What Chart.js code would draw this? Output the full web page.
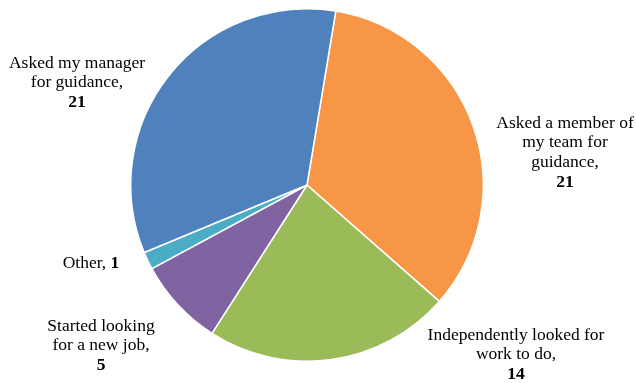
<!DOCTYPE html>
<html>
<head>
<meta charset="utf-8">
<script src="https://cdn.jsdelivr.net/npm/chart.js@4/dist/chart.umd.min.js"></script>
<style>
  html, body { margin: 0; padding: 0; background: #fff; }
  #wrap { width: 636px; height: 383px; }
  .warm { font-family: "Liberation Serif"; position: absolute; left: -999px; top: -999px; }
</style>
</head>
<body>
<span class="warm">Asked <b>21</b></span>
<div id="wrap"><canvas id="pie" width="636" height="383"></canvas></div>
<script>
// Responses, in clockwise order starting just right of twelve o'clock
const categories = [
  ['Asked a member of', 'my team for', 'guidance,'],
  ['Independently looked for', 'work to do,'],
  ['Started looking', 'for a new job,'],
  ['Other,'],
  ['Asked my manager', 'for guidance,']
];
const responses = [21, 14, 5, 1, 21];
const sliceColors = ['#F79646', '#9BBB59', '#8064A2', '#4BACC6', '#4F81BD'];

// Label placement, relative to the pie centre (px): x of text centre, y of first line
const labelOffsets = [
  { dx: 258, dy: -62 },
  { dx: 209, dy: 150 },
  { dx: -206, dy: 141 },
  { dx: -216, dy: 78, inline: true },
  { dx: -230, dy: -122 }
];

const FAMILY = '"Liberation Serif", "Times New Roman", Tinos, "DejaVu Serif", serif';

const labelPlugin = {
  id: 'sliceLabels',
  afterDatasetsDraw(chart) {
    const ctx = chart.ctx;
    const arc = chart.getDatasetMeta(0).data[0];
    const cx = arc.x, cy = arc.y;
    const lineH = 19.8;
    ctx.save();
    ctx.fillStyle = '#000';
    ctx.textBaseline = 'middle';
    const regular = '17.5px ' + FAMILY;
    const bold = 'bold 17.5px ' + FAMILY;
    categories.forEach((lines, i) => {
      const off = labelOffsets[i];
      const x = cx + off.dx;
      let y = cy + off.dy;
      const value = String(responses[i]);
      if (off.inline) {
        ctx.font = regular;
        const a = lines[0] + ' ';
        const wa = ctx.measureText(a).width;
        ctx.font = bold;
        const wb = ctx.measureText(value).width;
        const start = x - (wa + wb) / 2;
        ctx.textAlign = 'left';
        ctx.font = regular;
        ctx.fillText(a, start, y);
        ctx.font = bold;
        ctx.fillText(value, start + wa, y);
        return;
      }
      ctx.textAlign = 'center';
      ctx.font = regular;
      lines.forEach(t => { ctx.fillText(t, x, y); y += lineH; });
      ctx.font = bold;
      ctx.fillText(value, x, y);
    });
    ctx.restore();
  }
};

function draw() {
  new Chart(document.getElementById('pie'), {
    type: 'pie',
    data: {
      labels: categories.map(l => l.join(' ')),
      datasets: [{
        data: responses,
        backgroundColor: sliceColors,
        borderColor: '#ffffff',
        borderWidth: 1.5
      }]
    },
    options: {
      responsive: false,
      animation: false,
      rotation: 9.4,
      layout: { padding: { left: 130, right: 152, top: 8, bottom: 21 } },
      plugins: {
        legend: { display: false },
        tooltip: { enabled: false }
      }
    },
    plugins: [labelPlugin]
  });
}

Promise.all([
  document.fonts.load('17.5px "Liberation Serif"'),
  document.fonts.load('bold 17.5px "Liberation Serif"')
]).then(draw, draw);
</script>
</body>
</html>
